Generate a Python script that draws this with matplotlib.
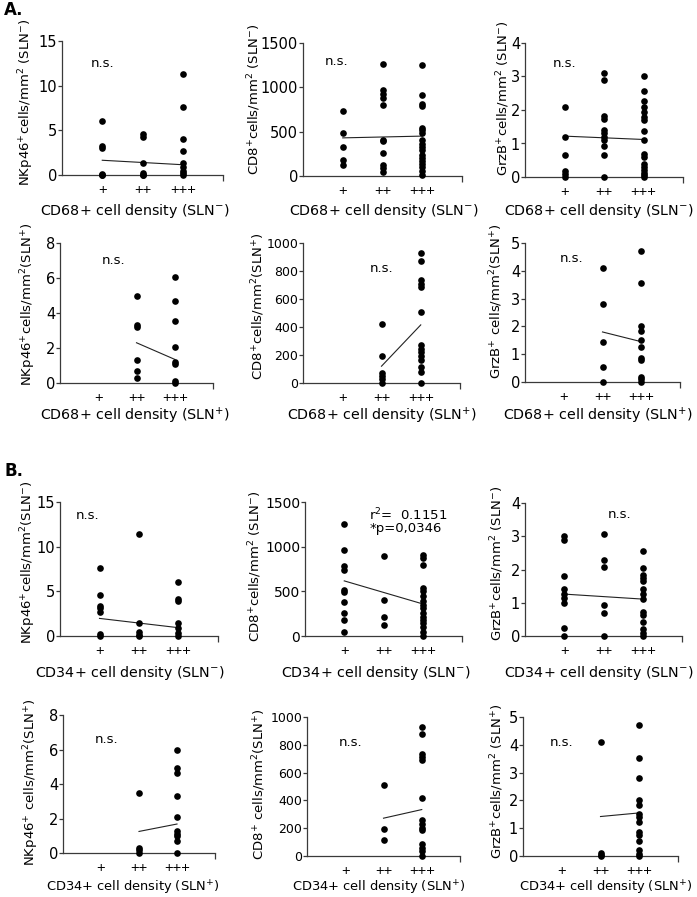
import numpy as np
import matplotlib
matplotlib.use('Agg')
import matplotlib.pyplot as plt

plt.rcParams['font.family'] = ['DejaVu Sans']
plt.rcParams['mathtext.fontset'] = 'dejavusans'
plt.rcParams['mathtext.default'] = 'regular'

# ---------------- data ----------------
categories = ['+', '++', '+++']

# A. CD68+ density, SLN-
a_nk_neg = [[6.0, 3.2, 3.0, 0.1, 0, 0],
            [4.6, 4.2, 1.35, 0.2, 0.05, 0],
            [11.3, 7.65, 4.0, 2.65, 1.35, 0.9, 0.5, 0.2, 0]]
a_nk_neg_fit = [1.65, 1.15]
a_cd8_neg = [[735, 480, 330, 185, 125],
             [1265, 970, 930, 885, 805, 410, 390, 255, 125, 90, 50],
             [1250, 910, 815, 790, 545, 520, 480, 405, 360, 330, 290, 235, 200, 170, 135, 105, 60, 15]]
a_cd8_neg_fit = [430, 450]
a_grzb_neg = [[2.08, 1.2, 0.65, 0.18, 0.08, 0],
              [3.1, 2.9, 1.82, 1.74, 1.4, 1.3, 1.2, 1.1, 0.93, 0.65, 0],
              [3.0, 2.57, 2.27, 2.08, 1.95, 1.8, 1.7, 1.37, 1.1, 0.7, 0.6, 0.4, 0.3, 0.2, 0.12, 0.05, 0]]
a_grzb_neg_fit = [1.22, 1.12]

# A. CD68+ density, SLN+
a_nk_pos = [[],
            [4.96, 3.29, 3.22, 1.3, 0.69, 0.3],
            [6.04, 4.69, 3.54, 2.08, 1.19, 1.08, 0.1, 0]]
a_nk_pos_fit = [2.3, 1.35]
a_cd8_pos = [[],
             [420, 195, 70, 50, 25, 0],
             [930, 875, 735, 710, 685, 510, 270, 245, 220, 190, 165, 115, 80, 0]]
a_cd8_pos_fit = [120, 415]
a_grzb_pos = [[],
              [4.1, 2.8, 1.45, 0.55, 0],
              [4.7, 3.55, 2.0, 1.85, 1.5, 1.25, 0.85, 0.78, 0.18, 0.1, 0]]
a_grzb_pos_fit = [1.8, 1.45]

# B. CD34+ density, SLN-
b_nk_neg = [[7.65, 4.55, 3.4, 3.1, 2.7, 0.2, 0],
            [11.4, 1.4, 0.4, 0.1, 0],
            [6.0, 4.1, 3.95, 1.4, 0.85, 0.35, 0]]
b_nk_neg_fit = [1.97, 0.93]
b_cd8_neg = [[1255, 960, 785, 740, 515, 495, 385, 255, 180, 40],
             [900, 405, 215, 120],
             [910, 870, 800, 535, 500, 450, 395, 350, 310, 255, 215, 180, 140, 105, 50, 5]]
b_cd8_neg_fit = [617, 359]
b_grzb_neg = [[3.0, 2.9, 1.8, 1.4, 1.27, 1.15, 1.0, 0.25, 0],
              [3.07, 2.28, 2.08, 0.92, 0.68, 0],
              [2.56, 2.06, 1.84, 1.74, 1.64, 1.4, 1.26, 1.1, 0.72, 0.62, 0.43, 0.2, 0.1, 0]]
b_grzb_neg_fit = [1.26, 1.11]

# B. CD34+ density, SLN+
b_nk_pos = [[],
            [3.5, 0.3, 0.15, 0],
            [6.0, 4.95, 4.65, 3.28, 2.06, 1.25, 1.12, 0.96, 0.67, 0]]
b_nk_pos_fit = [1.25, 1.68]
b_cd8_pos = [[],
             [510, 195, 115],
             [930, 880, 735, 710, 690, 420, 260, 230, 205, 185, 85, 60, 35, 0]]
b_cd8_pos_fit = [272, 334]
b_grzb_pos = [[],
              [4.1, 0.1, 0.04, 0],
              [4.7, 3.53, 2.8, 2.0, 1.82, 1.5, 1.42, 1.21, 0.88, 0.77, 0.55, 0.2, 0.07, 0]]
b_grzb_pos_fit = [1.42, 1.55]

ticks_nk_neg = [0, 5, 10, 15]
ticks_nk_pos = [0, 2, 4, 6, 8]
ticks_cd8_neg = [0, 500, 1000, 1500]
ticks_cd8_pos = [0, 200, 400, 600, 800, 1000]
ticks_grzb_neg = [0, 1, 2, 3, 4]
ticks_grzb_pos = [0, 1, 2, 3, 4, 5]

xlab_a_neg = 'CD68+ cell density (SLN$^{-}$)'
xlab_a_pos = 'CD68+ cell density (SLN$^{+}$)'
xlab_b_neg = 'CD34+ cell density (SLN$^{-}$)'
xlab_b_pos = 'CD34+ cell density (SLN$^{+}$)'

ylabels = [
    'NKp46$^{+}$cells/mm$^{2}$ (SLN$^{-}$)',
    'CD8$^{+}$cells/mm$^{2}$ (SLN$^{-}$)',
    'GrzB$^{+}$cells/mm$^{2}$ (SLN$^{-}$)',
    'NKp46$^{+}$cells/mm$^{2}$(SLN$^{+}$)',
    'CD8$^{+}$cells/mm$^{2}$(SLN$^{+}$)',
    'GrzB$^{+}$ cells/mm$^{2}$(SLN$^{+}$)',
    'NKp46$^{+}$cells/mm$^{2}$(SLN$^{-}$)',
    'CD8$^{+}$cells/mm$^{2}$ (SLN$^{-}$)',
    'GrzB$^{+}$cells/mm$^{2}$ (SLN$^{-}$)',
    'NKp46$^{+}$ cells/mm$^{2}$(SLN$^{+}$)',
    'CD8$^{+}$ cells/mm$^{2}$(SLN$^{+}$)',
    'GrzB$^{+}$cells/mm$^{2}$ (SLN$^{+}$)',
]

annotations = ['n.s.'] * 7 + ['r$^{2}$=  0.1151\n*p=0,0346'] + ['n.s.'] * 4

# ---------------- layout (pixel boxes: left, top, right, bottom) ----------------
W, H = 697, 897
boxes = [
    (62, 41, 223, 175), (303, 43, 462, 176), (525, 43, 683, 177),
    (60, 243, 213, 383), (303, 243, 460, 383), (525, 243, 680, 382),
    (60, 502, 218, 636), (305, 502, 462, 636), (525, 503, 682, 636),
    (63, 715, 215, 853), (307, 717, 460, 856), (523, 717, 678, 856),
]
ylabel_px = [(26, 102), (254, 99), (503, 98),
             (28, 304), (258, 306), (496, 301),
             (28, 562), (255, 566), (497, 563),
             (31, 782), (259, 784), (497, 781)]
ytick_fs = [10.5, 10.5, 10.5,
            10.5, 9.0, 10.5,
            10.5, 10.0, 10.5,
            10.5, 9.0, 10.5]
xlabel_c = [(135, 211), (384, 211), (599, 211),
            (135, 416), (382, 416), (598, 416),
            (130, 673), (376, 673), (599, 673),
            (133, 888), (379, 888), (606, 888)]
xlabel_fs = [10.3] * 9 + [9.4] * 3
ann_pos = [(1.0, 12.5), (0.85, 1290), (1.0, 3.4),
           (1.4, 7.0), (2.0, 820), (1.2, 4.45),
           (0.7, 13.5), (1.64, 1290), (2.4, 3.65),
           (1.15, 6.6), (1.15, 820), (1.0, 4.1)]

panels = [
    (a_nk_neg, a_nk_neg_fit, ticks_nk_neg, xlab_a_neg),
    (a_cd8_neg, a_cd8_neg_fit, ticks_cd8_neg, xlab_a_neg),
    (a_grzb_neg, a_grzb_neg_fit, ticks_grzb_neg, xlab_a_neg),
    (a_nk_pos, a_nk_pos_fit, ticks_nk_pos, xlab_a_pos),
    (a_cd8_pos, a_cd8_pos_fit, ticks_cd8_pos, xlab_a_pos),
    (a_grzb_pos, a_grzb_pos_fit, ticks_grzb_pos, xlab_a_pos),
    (b_nk_neg, b_nk_neg_fit, ticks_nk_neg, xlab_b_neg),
    (b_cd8_neg, b_cd8_neg_fit, ticks_cd8_neg, xlab_b_neg),
    (b_grzb_neg, b_grzb_neg_fit, ticks_grzb_neg, xlab_b_neg),
    (b_nk_pos, b_nk_pos_fit, ticks_nk_pos, xlab_b_pos),
    (b_cd8_pos, b_cd8_pos_fit, ticks_cd8_pos, xlab_b_pos),
    (b_grzb_pos, b_grzb_pos_fit, ticks_grzb_pos, xlab_b_pos),
]

fig = plt.figure(figsize=(W / 100, H / 100), dpi=100)
fig.patch.set_facecolor('white')

axis_col = '#3a3a3a'

for k, (groups, fit, yt, xlab) in enumerate(panels):
    l, t, r, b = boxes[k]
    ax = fig.add_axes([l / W, 1 - b / H, (r - l) / W, (b - t) / H])
    for i, vals in enumerate(groups):
        if len(vals):
            ax.plot(np.full(len(vals), i + 1), vals, 'o', color='black',
                    markersize=4.8, markeredgewidth=0, clip_on=False, zorder=3)
    nonempty = [i + 1 for i, g in enumerate(groups) if len(g)]
    ax.plot([nonempty[0], nonempty[-1]], fit, color='#222222', lw=0.8, zorder=2)

    ax.set_xlim(0, 4)
    ax.set_ylim(0, yt[-1])
    ax.set_yticks(yt)
    ax.set_yticklabels([str(v) for v in yt], fontsize=ytick_fs[k])
    ax.set_xticks([1, 2, 3])
    ax.set_xticklabels(categories, fontsize=10.5, family='Liberation Sans')
    ax.set_xticks([4], minor=True)
    ax.tick_params(axis='x', which='major', length=0, pad=6)
    ax.tick_params(axis='x', which='minor', length=4, width=0.9, color=axis_col, direction='out')
    ax.tick_params(axis='y', length=3, width=0.9, color=axis_col, direction='out', pad=0.5)
    for s in ['top', 'right']:
        ax.spines[s].set_visible(False)
    for s in ['left', 'bottom']:
        ax.spines[s].set_color(axis_col)
        ax.spines[s].set_linewidth(0.9)

    ax.set_ylabel(ylabels[k], fontsize=9.5)
    lx, ly = ylabel_px[k]
    ax.yaxis.set_label_coords((lx - l) / (r - l), (b - ly) / (b - t))
    ax.yaxis.label.set_va('center')
    ax.yaxis.label.set_ha('center')

    ax.set_xlabel(xlab, fontsize=xlabel_fs[k])
    cx, cy = xlabel_c[k]
    ax.xaxis.set_label_coords((cx - l) / (r - l), (b - cy) / (b - t))
    ax.xaxis.label.set_va('center')

    ax_x, ax_y = ann_pos[k]
    if annotations[k] == 'n.s.':
        ax.text(ax_x, ax_y, annotations[k], fontsize=9.5, ha='center', va='center')
    else:
        ax.text(ax_x, ax_y, annotations[k], fontsize=9.5, ha='left', va='center',
                linespacing=0.9)

fig.text(4 / W, 1 - 10 / H, 'A.', fontsize=12, fontweight='bold', ha='left', va='center')
fig.text(4 / W, 1 - 471 / H, 'B.', fontsize=12, fontweight='bold', ha='left', va='center')

fig.savefig('out.png', dpi=100, facecolor='white')
